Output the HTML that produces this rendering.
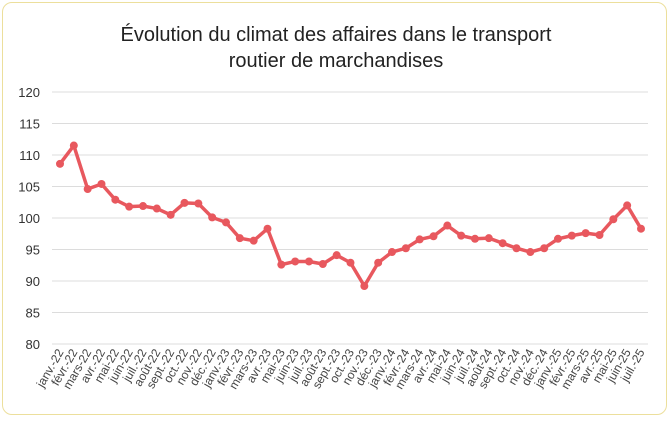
<!DOCTYPE html>
<html><head><meta charset="utf-8"><style>
body{margin:0;background:#fff;font-family:"Liberation Sans",sans-serif}
#frame{position:absolute;left:2px;top:2px;width:663px;height:411px;border:1.5px solid #ecdf9c;border-radius:10px}
#title{position:absolute;left:0;width:672px;top:22px;text-align:center;font-size:20px;line-height:26px;color:#222}
</style></head><body>
<div id="frame"></div>
<div id="title">Évolution du climat des affaires dans le transport<br>routier de marchandises</div>
<svg id="chart" width="672" height="422" style="position:absolute;left:0;top:0"></svg>
<script>
const categories=["janv.-22","févr.-22","mars-22","avr.-22","mai-22","juin-22","juil.-22","août-22","sept.-22","oct.-22","nov.-22","déc.-22","janv.-23","févr.-23","mars-23","avr.-23","mai-23","juin-23","juil.-23","août-23","sept.-23","oct.-23","nov.-23","déc.-23","janv.-24","févr.-24","mars-24","avr.-24","mai-24","juin-24","juil.-24","août-24","sept.-24","oct.-24","nov.-24","déc.-24","janv.-25","févr.-25","mars-25","avr.-25","mai-25","juin-25","juil.-25"];
const values=[108.6,111.5,104.6,105.4,102.9,101.8,101.9,101.5,100.5,102.4,102.3,100.1,99.3,96.8,96.4,98.3,92.6,93.1,93.1,92.7,94.1,92.9,89.2,92.9,94.6,95.2,96.6,97.1,98.8,97.2,96.7,96.8,96.0,95.2,94.6,95.2,96.7,97.2,97.6,97.3,99.8,102.0,98.3];
const yTicks=[80,85,90,95,100,105,110,115,120];
const svg=document.getElementById('chart');const NS='http://www.w3.org/2000/svg';
const x0=60,x1=641,yTop=92,yBot=344,yMin=80,yMax=120;
const X=i=>x0+i*(x1-x0)/(categories.length-1);
const Y=v=>yBot-(v-yMin)/(yMax-yMin)*(yBot-yTop);
function mk(t,a){const e=document.createElementNS(NS,t);for(const k in a)e.setAttribute(k,a[k]);svg.appendChild(e);return e;}
yTicks.forEach(t=>{
const g=mk('line',{x1:52,x2:648,y1:Y(t),y2:Y(t),stroke:'#dcdcdc','stroke-width':1});


const l=mk('text',{x:40,y:Y(t)+5,'text-anchor':'end','font-size':13,fill:'#333','font-family':'Liberation Sans, sans-serif'});
l.textContent=t;


});
categories.forEach((c,i)=>{
const t=mk('text',{x:X(i)+4,y:352,'text-anchor':'end','font-size':12,fill:'#444','font-family':'Liberation Sans, sans-serif',transform:`rotate(-60 ${X(i)+4} 352)`});
t.textContent=c;


});
const p=mk('polyline',{points:values.map((v,i)=>X(i)+','+Y(v)).join(' '),fill:'none',stroke:'#e8585e','stroke-width':3.5,'stroke-linejoin':'round'});


values.forEach((v,i)=>{
const c=mk('circle',{cx:X(i),cy:Y(v),r:4,fill:'#e8585e'});


});
</script>
</body></html>
